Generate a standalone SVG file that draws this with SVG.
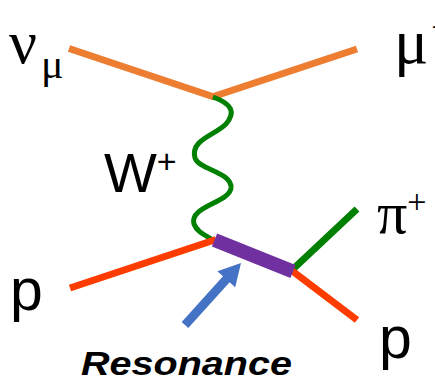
<svg xmlns="http://www.w3.org/2000/svg" width="435" height="381" viewBox="0 0 435 381">
<style>
.serif{font-family:"Liberation Serif","Times New Roman",serif;fill:#000}
.sans{font-family:"Liberation Sans",Arial,sans-serif;fill:#000}
.line{fill:none;stroke-linecap:butt}
</style>
<rect width="435" height="381" fill="#fff"/>
<g id="connectors">
<line class="line" x1="69" y1="48.5" x2="214" y2="97" stroke="#ED7D31" stroke-width="7"/>
<line class="line" x1="212" y1="97" x2="357" y2="49" stroke="#ED7D31" stroke-width="7"/>
<path class="line" d="M213,97 C232,104 236,112 226,124 C214,136 190,140 195,158 C199,170 232,172 231,188 C229,203 189,206 194,224 C197,232 205,235 213,240" stroke="#008000" stroke-width="5"/>
<line class="line" x1="70" y1="288" x2="216" y2="239.5" stroke="#FF3C00" stroke-width="7"/>
<line class="line" x1="291" y1="271" x2="357" y2="209" stroke="#008000" stroke-width="7"/>
<line class="line" x1="291" y1="270" x2="357" y2="320" stroke="#FF3C00" stroke-width="7"/>
<line class="line" x1="214.5" y1="240" x2="293" y2="271.5" stroke="#7030A0" stroke-width="14"/>
<polygon points="181.7,322 188.3,328 229.6,282.3 235.2,287.3 241,263 217.4,271.3 223,276.3" fill="#4472C4"/>
</g>
<g id="nu_mu">
<text class="serif" x="9" y="63" font-size="62">ν</text>
<text class="serif" x="41" y="78" font-size="42">μ</text>
</g>
<g id="mu_plus">
<text class="serif" x="394" y="63" font-size="64">μ<tspan font-size="36" dy="-24" dx="3">+</tspan></text>
</g>
<g id="W_plus">
<text class="sans" x="104" y="192" font-size="56">W<tspan font-size="34" dy="-19">+</tspan></text>
</g>
<g id="pi_plus">
<text class="serif" x="377" y="233" font-size="60">π<tspan font-size="34" dy="-20">+</tspan></text>
</g>
<g id="p_in">
<text class="sans" x="10" y="310" font-size="59">p</text>
</g>
<g id="p_out">
<text class="sans" x="379" y="358" font-size="59">p</text>
</g>
<g id="resonance">
<text class="sans" x="81" y="375" font-size="34" font-weight="bold" font-style="italic" textLength="211" lengthAdjust="spacingAndGlyphs">Resonance</text>
</g>
</svg>
